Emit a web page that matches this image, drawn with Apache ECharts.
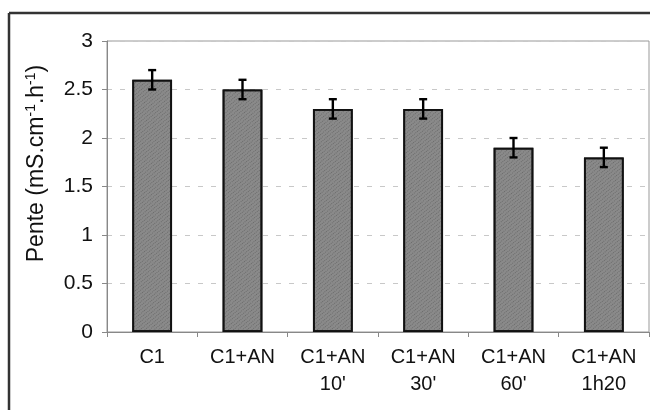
<!DOCTYPE html>
<html><head><meta charset="utf-8">
<script src="https://cdn.jsdelivr.net/npm/echarts@6/dist/echarts.min.js"></script>
<style>html,body{margin:0;padding:0;background:#fff}#c{width:650px;height:410px}</style>
</head><body><div id="c"></div>
<script>
var categories = ['C1', 'C1+AN', "C1+AN\n10'", "C1+AN\n30'", "C1+AN\n60'", 'C1+AN\n1h20'];
var values = [2.6, 2.5, 2.3, 2.3, 1.9, 1.8];
var errors = [0.1, 0.1, 0.1, 0.1, 0.1, 0.1];
var yTicks = [0, 0.5, 1, 1.5, 2, 2.5, 3];
var yName = '{t|Pente (mS.cm}{s|-1}{t|.h}{s|-1}{t|)}';

var chart = echarts.init(document.getElementById('c'), null, {renderer: 'canvas'});
var font = '"Liberation Sans", Arial, sans-serif';
chart.setOption({
  animation: false,
  backgroundColor: '#fff',
  grid: {left: 107, top: 41, right: 1, bottom: 78, show: true, borderColor: '#999', borderWidth: 1},
  graphic: [
    {type: 'line', shape: {x1: 9, y1: 13, x2: 650, y2: 13}, style: {stroke: '#333', lineWidth: 2.5}, z: 10},
    {type: 'line', shape: {x1: 9, y1: 13, x2: 9, y2: 410}, style: {stroke: '#333', lineWidth: 2.5}, z: 10}
  ],
  xAxis: {
    type: 'category', data: categories,
    axisLine: {lineStyle: {color: '#888', width: 1}},
    axisTick: {show: true, length: 5, lineStyle: {color: '#888'}},
    axisLabel: {fontFamily: font, fontSize: 20, color: '#111', margin: 12, lineHeight: 27, interval: 0}
  },
  yAxis: {
    type: 'value', min: yTicks[0], max: yTicks[yTicks.length - 1], interval: 0.5,
    name: yName, nameLocation: 'middle', nameGap: 57,
    nameTextStyle: {
      fontFamily: font, fontSize: 23, color: '#111', padding: [0, 0, 0, 46],
      rich: {
        t: {fontFamily: font, fontSize: 23, color: '#111'},
        s: {fontFamily: font, fontSize: 14, color: '#111', padding: [0, 0, 12, 0]}
      }
    },
    axisLine: {show: true, lineStyle: {color: '#888', width: 1}},
    axisTick: {show: true, length: 5, lineStyle: {color: '#888'}},
    axisLabel: {fontFamily: font, fontSize: 21, color: '#111', margin: 14},
    splitLine: {show: true, lineStyle: {color: '#c8c8c8', type: [5, 8], width: 1}}
  },
  series: [
    {
      type: 'bar', data: values, barWidth: '44%',
      itemStyle: {
        color: '#8a8a8a', borderColor: '#111', borderWidth: 1.8,
        decal: {symbol: 'rect', symbolSize: 1, dashArrayX: [1, 1], dashArrayY: [1, 2], rotation: -0.7, color: 'rgba(50,50,50,0.35)'}
      },
      z: 2
    },
    {
      type: 'custom', z: 5,
      data: values.map(function (v, i) { return [i, v, errors[i]]; }),
      renderItem: function (params, api) {
        var i = api.value(0), v = api.value(1), e = api.value(2);
        var hi = api.coord([i, v + e]);
        var lo = api.coord([i, v - e]);
        var w = 4;
        var st = {stroke: '#000', lineWidth: 2.4};
        return {type: 'group', children: [
          {type: 'line', shape: {x1: hi[0], y1: hi[1], x2: lo[0], y2: lo[1]}, style: st},
          {type: 'line', shape: {x1: hi[0] - w, y1: hi[1], x2: hi[0] + w, y2: hi[1]}, style: st},
          {type: 'line', shape: {x1: lo[0] - w, y1: lo[1], x2: lo[0] + w, y2: lo[1]}, style: st}
        ]};
      }
    }
  ]
});
</script></body></html>
